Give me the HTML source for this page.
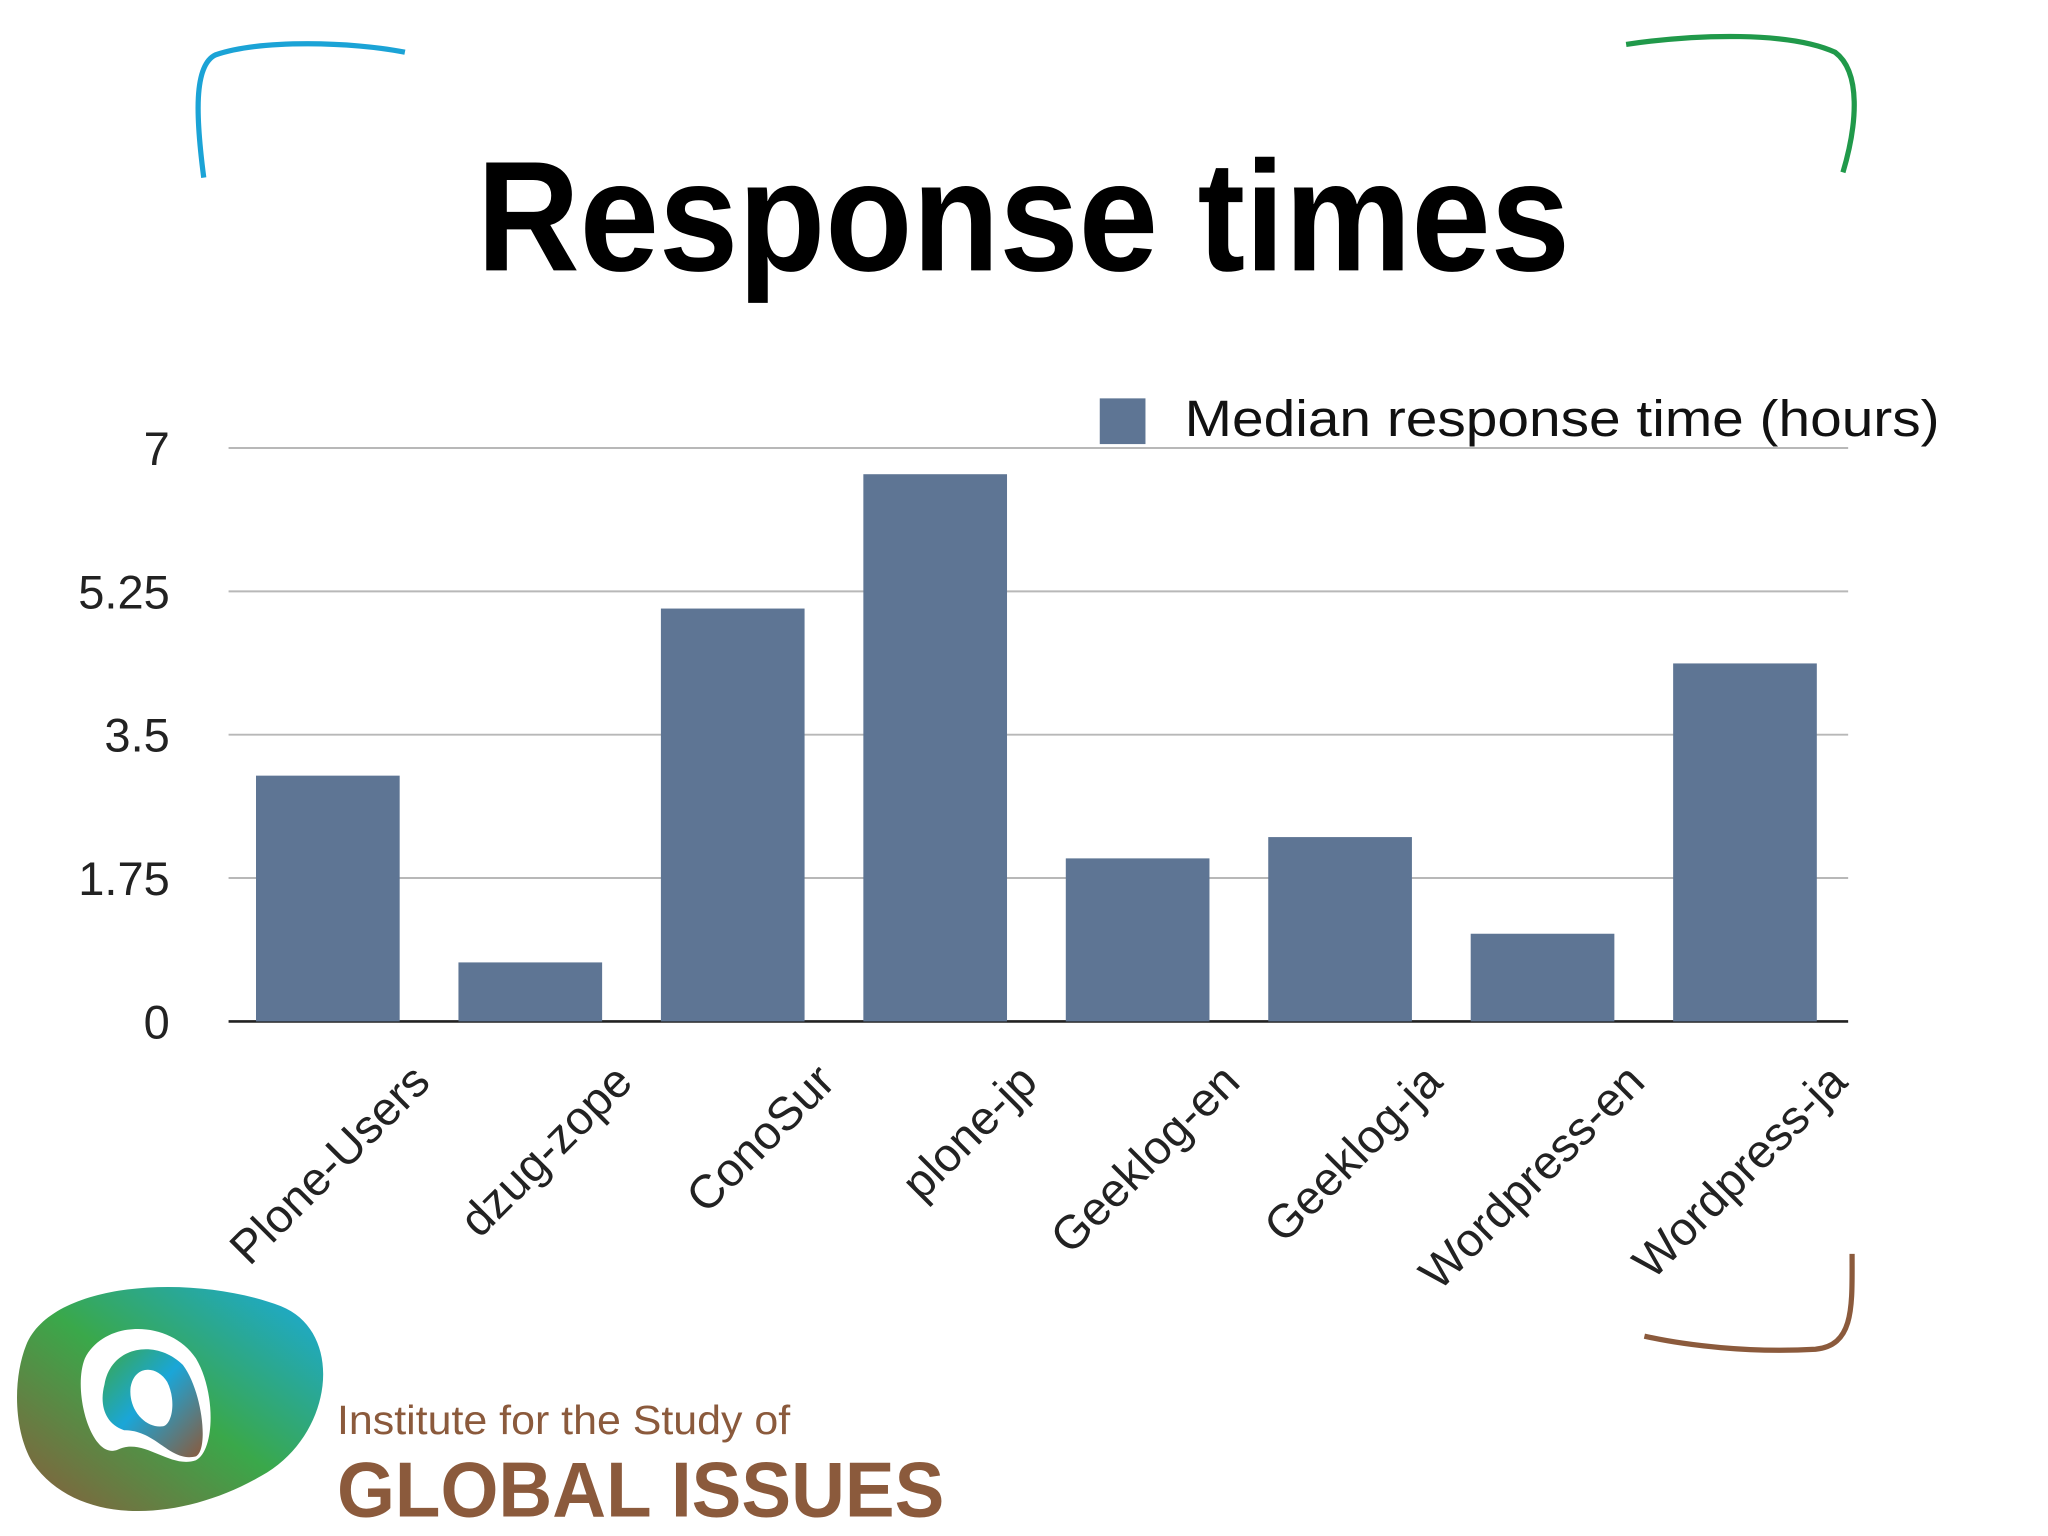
<!DOCTYPE html>
<html><head><meta charset="utf-8"><style>
html,body{margin:0;padding:0;background:#fff;}
svg{display:block;}
</style></head><body>
<svg id="chart" width="2048" height="1536" viewBox="0 0 1568 1176" xmlns="http://www.w3.org/2000/svg" font-family="Liberation Sans, sans-serif">
<defs>
<linearGradient id="logoGrad" x1="0" y1="0" x2="1" y2="1">
<stop offset="0" stop-color="#3aa84a"/><stop offset="0.45" stop-color="#1aa6d8"/><stop offset="1" stop-color="#8b5a3c"/>
</linearGradient>
<linearGradient id="logoGrad2" x1="0" y1="1" x2="1" y2="0">
<stop offset="0" stop-color="#8b5a3c"/><stop offset="0.5" stop-color="#3aa84a"/><stop offset="1" stop-color="#19a9e0"/>
</linearGradient>
</defs>
<path d="M156,136 C150,90 148,50 165,42 C200,30 270,32 310,40" fill="none" stroke="#1ba3d6" stroke-width="4"/>
<path d="M1245,34 C1300,26 1370,24 1405,40 C1425,55 1422,95 1411,132" fill="none" stroke="#20994a" stroke-width="4"/>
<path d="M1418,960 C1418,1000 1420,1030 1390,1033 C1340,1036 1290,1030 1259,1023" fill="none" stroke="#8b5a3c" stroke-width="4"/>
<text x="365" y="207" textLength="837" lengthAdjust="spacingAndGlyphs" font-size="120" font-weight="bold" fill="#000">Response times</text>
<g id="grid"></g>
<g id="bars"></g>
<g id="ylabels"></g>
<g id="xlabels"></g>
<g>
<rect x="842" y="305" width="35" height="35" fill="#5e7594"/>
<text x="907" y="334" textLength="578" lengthAdjust="spacingAndGlyphs" font-size="39" fill="#111">Median response time (hours)</text>
</g>
<g>
<path d="M20,1030 C40,980 150,975 215,1000 C265,1020 255,1100 200,1130 C140,1165 60,1170 25,1120 C10,1095 10,1055 20,1030 Z" fill="url(#logoGrad2)"/>
<path d="M65,1040 C80,1010 130,1010 150,1040 C165,1065 165,1110 150,1118 C130,1125 110,1100 90,1110 C70,1118 55,1065 65,1040 Z" fill="#fff"/>
<path d="M80,1060 C85,1030 120,1025 140,1045 C155,1065 160,1110 150,1115 C130,1120 120,1095 95,1095 C80,1090 76,1075 80,1060 Z" fill="url(#logoGrad)"/>
<path d="M100,1062 C103,1045 120,1045 128,1058 C135,1072 132,1090 125,1092 C112,1094 98,1080 100,1062 Z" fill="#fff"/>
<text x="258" y="1098" textLength="347" lengthAdjust="spacingAndGlyphs" font-size="31" fill="#8b5a3c">Institute for the Study of</text>
<text x="258" y="1161" textLength="465" lengthAdjust="spacingAndGlyphs" font-size="60" font-weight="bold" fill="#8b5a3c">GLOBAL ISSUES</text>
</g>
</svg>
<script>
const categories = ["Plone-Users","dzug-zope","ConoSur","plone-jp","Geeklog-en","Geeklog-ja","Wordpress-en","Wordpress-ja"];
const values = [3.0, 0.72, 5.04, 6.68, 1.99, 2.25, 1.07, 4.37];
const yTicks = [0, 1.75, 3.5, 5.25, 7];
const yTickLabels = ["0","1.75","3.5","5.25","7"];
(function(){
const NS="http://www.w3.org/2000/svg";
const x0=175, x1=1415, yBase=782, yTop=343, yMax=7;
const yScale=v=>yBase-(v/yMax)*(yBase-yTop);
const step=155, barW=110, firstCenter=251;
const xCenter=i=>firstCenter+i*step;
const grid=document.getElementById('grid');
yTicks.forEach((t,i)=>{
 const l=document.createElementNS(NS,'line');
 
 
 l.setAttribute('x1',x0);l.setAttribute('x2',x1);
 l.setAttribute('y1',yScale(t));l.setAttribute('y2',yScale(t));
 l.setAttribute('stroke',t===0?'#222':'#b8b8b8');l.setAttribute('stroke-width',t===0?2:1.5);
 grid.appendChild(l);
 const tx=document.createElementNS(NS,'text');
 
 
 tx.setAttribute('x',130);tx.setAttribute('y',yScale(t)+13);
 tx.setAttribute('text-anchor','end');tx.setAttribute('font-size','36');tx.setAttribute('fill','#222');
 tx.textContent=yTickLabels[i];
 document.getElementById('ylabels').appendChild(tx);
});
const bars=document.getElementById('bars');
values.forEach((v,i)=>{
 const r=document.createElementNS(NS,'rect');
 
 
 r.setAttribute('x',xCenter(i)-barW/2);r.setAttribute('width',barW);
 r.setAttribute('y',yScale(v));r.setAttribute('height',yBase-yScale(v));
 r.setAttribute('fill','#5e7594');
 bars.appendChild(r);
 const tx=document.createElementNS(NS,'text');
 
 
 const ax=xCenter(i)+80, ay=830;
 tx.setAttribute('x',ax);tx.setAttribute('y',ay);
 tx.setAttribute('text-anchor','end');tx.setAttribute('font-size','36');tx.setAttribute('fill','#222');
 tx.setAttribute('transform','rotate(-45 '+ax+' '+ay+')');
 tx.textContent=categories[i];
 document.getElementById('xlabels').appendChild(tx);
});
})();
</script>
</body></html>
